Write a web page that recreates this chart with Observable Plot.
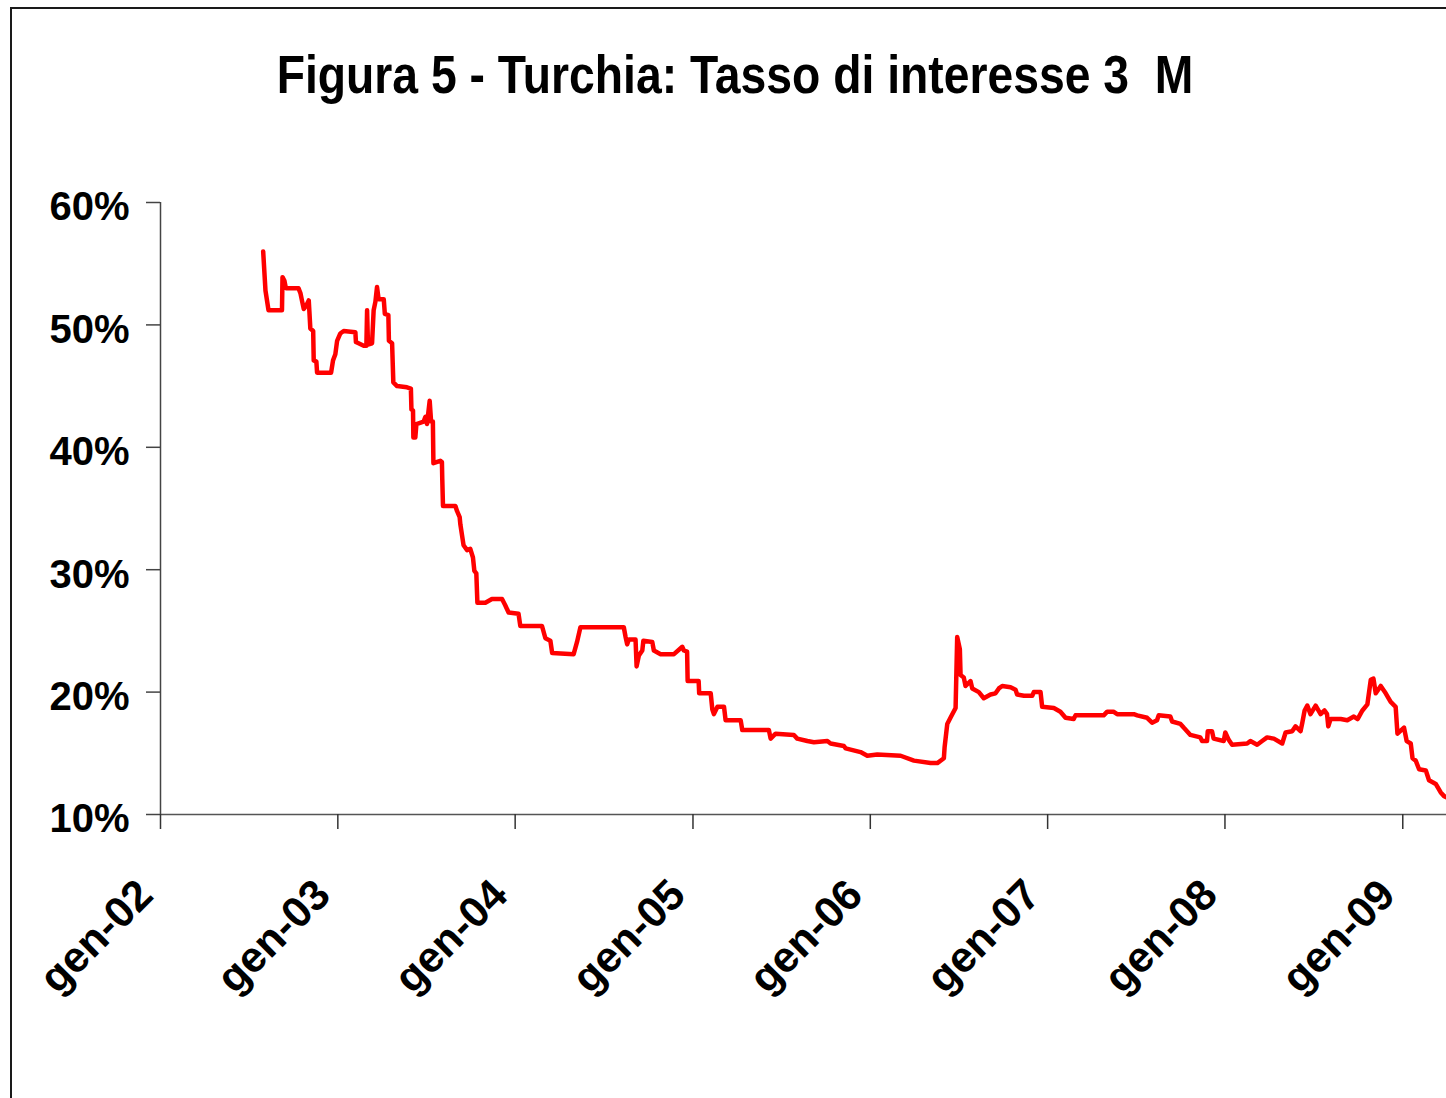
<!DOCTYPE html>
<html><head><meta charset="utf-8">
<script src="https://cdn.jsdelivr.net/npm/d3@7"></script>
<script src="https://cdn.jsdelivr.net/npm/@observablehq/plot@0.6"></script>
<style>
html,body{margin:0;padding:0;background:#fff;width:1446px;height:1098px;overflow:hidden;position:relative;font-family:"Liberation Sans",Arial,sans-serif}
#frame{position:absolute;left:10px;top:7px;width:1500px;height:1200px;border-left:2px solid #1a1a1a;border-top:2px solid #1a1a1a;pointer-events:none}
#header{position:relative;height:130px}
#title{position:absolute;left:0;top:48px;width:1470px;text-align:center;font-weight:bold;font-size:46.3px;line-height:46px;transform:scaleY(1.15);transform-origin:50% 0;white-space:pre;color:#000}
#chart svg{display:block}
</style></head><body>
<div id="frame"></div>
<div id="header"><div id="title">Figura 5 - Turchia: Tasso di interesse 3  M</div></div>
<div id="chart"></div>
<script>
// time as decimal year
const decimalYears = [
2002.579,2002.592,2002.609,2002.685,2002.688,2002.699,2002.707,2002.778,2002.789,2002.799,
2002.808,2002.823,2002.836,2002.840,2002.845,2002.861,2002.864,2002.879,2002.883,2002.962,
2002.973,2002.986,2002.996,2003.014,2003.033,2003.099,2003.102,2003.146,2003.161,2003.165,
2003.170,2003.193,2003.202,2003.212,2003.221,2003.230,2003.259,2003.265,2003.285,2003.288,
2003.306,2003.313,2003.334,2003.390,2003.412,2003.415,2003.424,2003.426,2003.437,2003.443,
2003.484,2003.494,2003.503,2003.518,2003.526,2003.536,2003.539,2003.578,2003.587,2003.589,
2003.593,2003.663,2003.672,2003.687,2003.691,2003.709,2003.729,2003.747,2003.762,2003.770,
2003.781,2003.787,2003.832,2003.869,2003.926,2003.944,2003.963,2004.019,2004.029,2004.151,
2004.170,2004.198,2004.208,2004.329,2004.348,2004.367,2004.611,2004.621,2004.630,2004.639,
2004.677,2004.683,2004.696,2004.715,2004.721,2004.771,2004.780,2004.818,2004.893,2004.940,
2004.949,2004.967,2004.970,2005.032,2005.035,2005.100,2005.109,2005.118,2005.138,2005.175,
2005.184,2005.269,2005.278,2005.428,2005.438,2005.466,2005.569,2005.588,2005.645,2005.682,
2005.758,2005.776,2005.851,2005.861,2005.945,2005.983,2006.039,2006.171,2006.246,2006.340,
2006.378,2006.415,2006.419,2006.434,2006.452,2006.481,2006.490,2006.505,2006.509,2006.527,
2006.537,2006.565,2006.575,2006.612,2006.640,2006.678,2006.706,2006.725,2006.744,2006.791,
2006.819,2006.828,2006.866,2006.913,2006.922,2006.960,2006.969,2007.035,2007.072,2007.101,
2007.147,2007.157,2007.316,2007.336,2007.371,2007.392,2007.486,2007.505,2007.561,2007.589,
2007.617,2007.626,2007.692,2007.702,2007.749,2007.767,2007.786,2007.805,2007.861,2007.871,
2007.899,2007.903,2007.927,2007.936,2007.993,2008.002,2008.021,2008.040,2008.125,2008.143,
2008.181,2008.209,2008.237,2008.275,2008.322,2008.341,2008.378,2008.397,2008.425,2008.435,
2008.448,2008.463,2008.481,2008.510,2008.538,2008.560,2008.574,2008.581,2008.594,2008.651,
2008.688,2008.725,2008.746,2008.773,2008.801,2008.820,2008.835,2008.848,2008.876,2008.904,
2008.932,2008.960,2008.970,2009.007,2009.022,2009.045,2009.055,2009.073,2009.092,2009.130,
2009.148,2009.186,2009.214,2009.233,2009.248
];
// 3-month interest rate, percent
const rates = [
56.0,52.8,51.2,51.2,53.9,53.6,53.0,53.0,52.6,51.9,
51.3,51.6,52.0,51.0,49.7,49.5,47.1,47.0,46.1,46.1,
47.1,47.6,48.7,49.3,49.5,49.4,48.6,48.3,48.3,51.2,
48.4,48.5,51.2,51.9,53.1,52.1,52.1,50.9,50.8,48.7,
48.5,45.3,45.0,44.9,44.8,43.1,43.0,40.8,40.8,41.9,
42.1,42.5,41.9,43.8,42.1,42.1,38.7,38.9,38.8,37.4,
35.2,35.2,34.8,34.3,33.7,32.0,31.6,31.7,31.0,29.9,
29.7,27.3,27.3,27.6,27.6,27.1,26.5,26.4,25.4,25.4,
24.4,24.2,23.2,23.1,24.1,25.3,25.3,24.5,23.9,24.3,
24.3,22.1,23.0,23.4,24.2,24.1,23.4,23.1,23.1,23.7,
23.4,23.3,20.9,20.9,19.9,19.9,18.6,18.2,18.8,18.8,
17.7,17.7,16.9,16.9,16.2,16.6,16.5,16.2,16.0,15.9,
16.0,15.8,15.6,15.4,15.1,14.8,14.9,14.8,14.4,14.2,
14.2,14.6,15.5,17.4,17.9,18.7,24.5,23.5,21.4,21.2,
20.5,20.9,20.3,20.0,19.5,19.8,19.9,20.3,20.5,20.4,
20.2,19.8,19.7,19.7,20.0,20.0,18.8,18.7,18.4,17.9,
17.8,18.1,18.1,18.4,18.4,18.2,18.2,18.1,17.9,17.5,
17.7,18.1,18.0,17.6,17.4,17.1,16.8,16.5,16.3,16.0,
16.0,16.8,16.8,16.2,16.0,16.7,16.1,15.7,15.8,16.0,
15.7,16.0,16.3,16.2,15.8,16.7,16.8,17.2,16.8,17.5,
18.5,18.9,18.2,18.9,18.2,18.5,18.2,17.2,17.8,17.8,
17.7,18.0,17.8,18.5,19.0,21.0,21.1,19.9,20.5,19.9,
19.2,18.8,16.6,17.1,16.0,15.8,14.6,14.4,13.7,13.6,
12.8,12.5,11.8,11.5,11.4
];
const tickYears = [2002,2003,2004,2005,2006,2007,2008,2009];
const xTickLabels = ["gen-02","gen-03","gen-04","gen-05","gen-06","gen-07","gen-08","gen-09"];
const yTicks = [10,20,30,40,50,60];
const yTickLabels = ["10%","20%","30%","40%","50%","60%"];

function toDate(t){
  const y = Math.floor(t);
  const s = Date.UTC(y,0,1), e = Date.UTC(y+1,0,1);
  return new Date(s + (t - y) * (e - s));
}
const data = decimalYears.map((t,i)=>({date: toDate(t), rate: rates[i]}));
const xTicks = tickYears.map(y => new Date(Date.UTC(y,0,1)));
const xFmt = d => xTickLabels[xTicks.findIndex(t => +t === +d)];
const yFmt = d => yTickLabels[yTicks.indexOf(d)];

const plot = Plot.plot({
  width: 1446, height: 968,
  marginTop: 72, marginBottom: 284, marginLeft: 160, marginRight: 0,
  style: {fontFamily: "'Liberation Sans', Arial, sans-serif", fontWeight: "bold", fontSize: "40px", color: "#000", background: "transparent", overflow: "visible"},
  x: {type: "utc", domain: [new Date(Date.UTC(2002,0,1)), new Date(Date.UTC(2009,3,1))], label: null},
  y: {domain: [10, 60], label: null},
  marks: [
    Plot.ruleY([10], {stroke: "#555", strokeWidth: 1.5}),
    Plot.ruleX([xTicks[0]], {y1: 10, y2: 60, stroke: "#444", strokeWidth: 1.5}),
    // y ticks (lines)
    Plot.axisY({ticks: yTicks, tickFormat: () => "", tickSize: 14, stroke: "#444", strokeWidth: 1.5, label: null}),
    // y tick labels
    Plot.axisY({ticks: yTicks, tickFormat: yFmt, tickSize: 0, tickPadding: 31, dy: 5, fill: "#000", fontSize: 40, fontWeight: "bold", label: null}),
    // x ticks (lines)
    Plot.axisX({ticks: xTicks, tickFormat: () => "", tickSize: 15, stroke: "#333", strokeWidth: 1.5, label: null}),
    // x tick labels
    Plot.axisX({ticks: xTicks, tickFormat: xFmt, tickSize: 0, tickPadding: 73, tickRotate: -45, dx: -15, fill: "#000", fontSize: 43, fontWeight: "bold", label: null}),
    Plot.line(data, {x: "date", y: "rate", stroke: "#ff0000", strokeWidth: 4.5, strokeLinejoin: "round", strokeLinecap: "round"})
  ]
});
document.getElementById("chart").appendChild(plot);
</script>
</body></html>
